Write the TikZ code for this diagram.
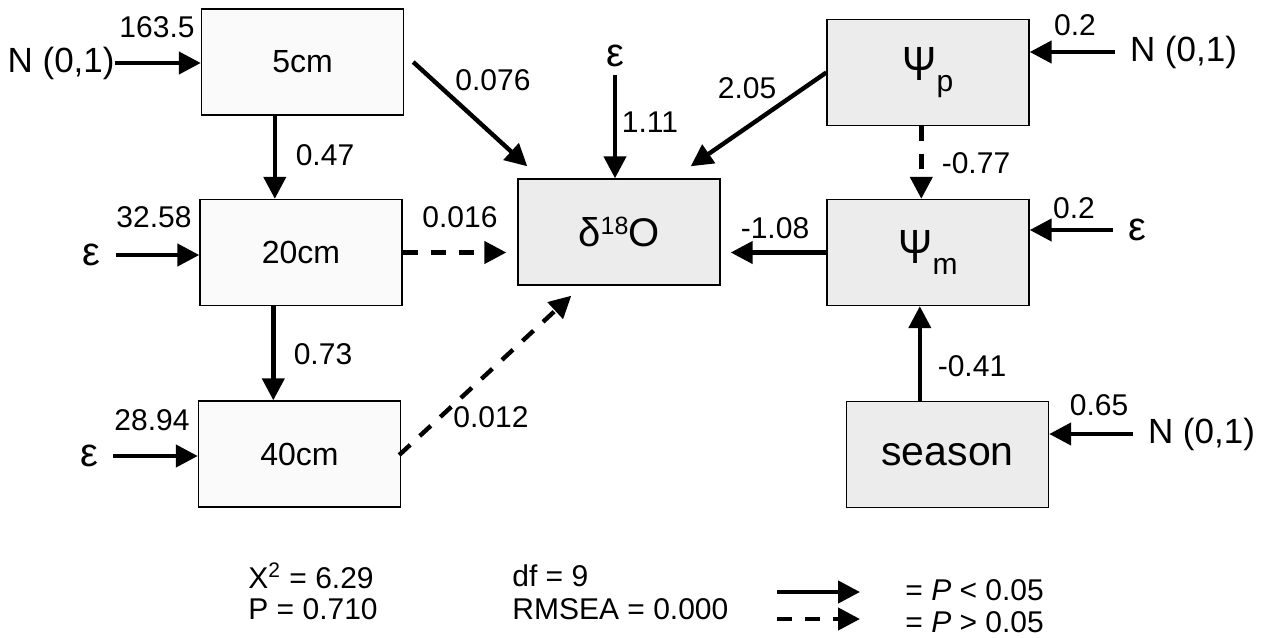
\documentclass[tikz,border=0pt]{standalone}
\usepackage{fontspec}
\setmainfont{Liberation Sans}
\usetikzlibrary{arrows.meta,calc}
\begin{document}
\begin{tikzpicture}[x=0.5pt,y=-0.5pt,
  box/.style={draw=black, line width=0.7pt, minimum width=101pt, minimum height=53pt,
    inner sep=0pt, font=\fontsize{16}{19}\selectfont},
  lightbox/.style={box, fill=gray!4},
  darkbox/.style={box, fill=gray!15},
  arr/.style={line width=2.2pt, -{Triangle[length=11pt,width=11pt]}},
  darr/.style={arr, dash pattern=on 7.5pt off 6.5pt},
  coef/.style={inner sep=0pt, font=\fontsize{15}{18}\selectfont},
  src/.style={inner sep=0pt, font=\fontsize{17.5}{21}\selectfont},
  eps/.style={inner sep=0pt, font=\fontsize{20}{24}\selectfont},
  stat/.style={inner sep=0pt, anchor=west, font=\fontsize{15}{18}\selectfont}]
\useasboundingbox (0,0) rectangle (1272,637);

% soil depth boxes
\node[lightbox] (b5)  at (302.5,62)  {5cm};
\node[lightbox] (b20) at (301,252.5) {20cm};
\node[lightbox] (b40) at (299.5,454) {40cm};
% response and water potential boxes
\node[darkbox, font=\fontsize{20}{24}\selectfont] (bd) at (619,232)
  {δ\raisebox{6pt}{\fontsize{12.5}{15}\selectfont 18}O};
\node[darkbox, font=\fontsize{24}{28}\selectfont] (bpp) at (928,72.5)
  {\scalebox{0.85}[1]{Ψ}\raisebox{-5.5pt}{\fontsize{15}{18}\selectfont p}};
\node[darkbox, font=\fontsize{24}{28}\selectfont] (bpm) at (928,252.5)
  {\scalebox{0.85}[1]{Ψ}\raisebox{-5.5pt}{\fontsize{15}{18}\selectfont m}};
\node[darkbox, font=\fontsize{20.5}{24}\selectfont] (bs) at (947.5,454.5) {season};

% error terms, left column
\node[src, anchor=east] (nL) at (115,63) {N (0,1)};
\draw[arr] (nL.east) -- (nL.east -| b5.west);
\node[eps, outer xsep=8pt] (e20) at (91,255) {ε};
\draw[arr] (e20.east) -- (e20.east -| b20.west);
\node[eps, outer xsep=7.5pt] (e40) at (89,456) {ε};
\draw[arr] (e40.east) -- (e40.east -| b40.west);

% depth to depth paths
\coordinate (t5) at ($(b5.south west)+(74,0)$);
\draw[arr] (t5) -- (t5 |- b20.north);
\coordinate (t20) at ($(b20.south west)+(74,0)$);
\draw[arr] (t20) -- (t20 |- b40.north);

% paths into delta 18O
\draw[arr] ($(b5.east)+(9,0)$) -- ($(bd.north west)+(10,-12)$);
\node[eps, outer ysep=4pt] (etop) at (615,56) {ε};
\draw[arr] (etop.south) -- (etop.south |- bd.north);
\draw[arr] (bpp.west) -- ($(bd.north east)+(-30,-12)$);
\draw[darr] (b20.east) -- ($(bd.west |- b20.east)+(-11,0)$);
\draw[darr] ($(b40.east)+(-2,1)$) -- ($(bd.south west)+(54,10)$);
\draw[arr] (bpm.west) -- ($(bd.east |- bpm.west)+(10,0)$);

% right column
\coordinate (tp) at ($(bpp.south west)+(95,0)$);
\draw[darr] (tp) -- (tp |- bpm.north);
\coordinate (ts) at ($(bs.north west)+(74,0)$);
\draw[arr] (ts) -- (ts |- bpm.south);
\node[src, anchor=west, outer xsep=7.5pt] (nR1) at (1115,52) {N (0,1)};
\draw[arr] (nR1.west) -- (nR1.west -| bpp.east);
\node[eps, anchor=west, outer xsep=7.5pt] (eR) at (1113,230) {ε};
\draw[arr] (eR.west) -- (eR.west -| bpm.east);
\node[src, anchor=west, outer xsep=7.5pt] (nR2) at (1133,434) {N (0,1)};
\draw[arr] (nR2.west) -- (nR2.west -| bs.east);

% path coefficients
\node[coef] (c1)  at (157,27)  {163.5};
\node[coef] (c2)  at (154,217) {32.58};
\node[coef] (c3)  at (152,420) {28.94};
\node[coef] (c4)  at (325,155) {0.47};
\node[coef] (c5)  at (323,354) {0.73};
\node[coef] (c6)  at (493,80)  {0.076};
\node[coef] (c7)  at (650,122) {1.11};
\node[coef] (c8)  at (747,88)  {2.05};
\node[coef] (c9)  at (460,217) {0.016};
\node[coef] (c10) at (491,417) {0.012};
\node[coef] (c11) at (775,228) {-1.08};
\node[coef] (c12) at (976,163) {-0.77};
\node[coef] (c13) at (972,366) {-0.41};
\node[coef] (c14) at (1075,25)  {0.2};
\node[coef] (c15) at (1074,208) {0.2};
\node[coef] (c16) at (1099,405) {0.65};

% fit statistics
\node[stat] (chi) at (248,576) {X\textsuperscript{2} = 6.29};
\node[stat] (pv)  at (248,609) {P = 0.710};
\node[stat] (df)  at (512,576) {df = 9};
\node[stat] (rm)  at (512,609) {RMSEA = 0.000};

% legend
\coordinate (ls1) at (777,592); \coordinate (le1) at (860,592);
\draw[arr] (ls1) -- (le1);
\coordinate (ls2) at (777,619); \coordinate (le2) at (860,619);
\draw[darr] (ls2) -- (le2);
\node[stat] (lg1) at (905,590) {= \textit{P} < 0.05};
\node[stat] (lg2) at (905,622) {= \textit{P} > 0.05};
\end{tikzpicture}
\end{document}
